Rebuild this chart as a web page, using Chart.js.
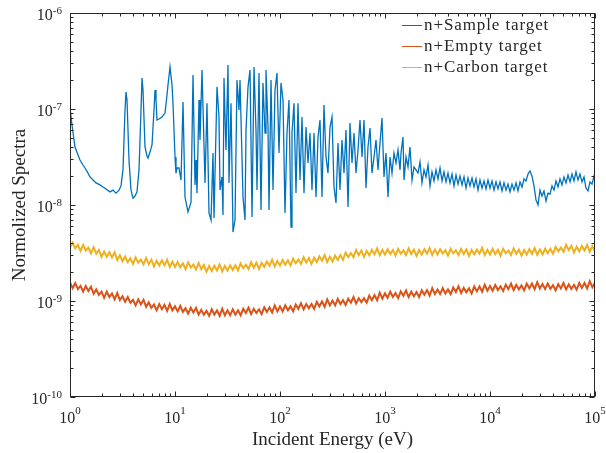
<!DOCTYPE html>
<html>
<head>
<meta charset="utf-8"/>
<title>Normalized spectra</title>
<script src="https://cdn.jsdelivr.net/npm/chart.js"></script>
<style>
  html, body { margin: 0; padding: 0; background: #fff; }
  canvas { display: block; }
</style>
</head>
<body>
<canvas id="spectra" width="606" height="453"></canvas>
<script>
// tick labels (decades)
const xDecades = [1, 10, 100, 1e3, 1e4, 1e5];
const xExponents = ['0', '1', '2', '3', '4', '5'];
const yDecades = [1e-10, 1e-9, 1e-8, 1e-7, 1e-6];
const yExponents = ['-10', '-9', '-8', '-7', '-6'];

const seriesNames = ['n+Sample target', 'n+Empty target', 'n+Carbon target'];

// n+Sample target
const sampleEnergy = [
  1.00, 1.045, 1.116, 1.192, 1.245, 1.33, 1.39, 1.484, 1.551, 1.656, 1.769, 1.931, 2.062, 2.203, 2.404, 2.568, 2.742, 2.929,
  3.06, 3.197, 3.341, 3.415, 3.491, 3.646, 3.811, 3.981, 4.16, 4.347, 4.541, 4.746, 4.851, 4.958, 5.179, 5.412, 5.533, 5.78,
  6.04, 6.31, 6.45, 6.592, 6.74, 7.041, 7.518, 8.031, 8.392, 8.577, 8.964, 9.363, 9.572, 10.0, 10.22, 10.45, 10.92, 11.41,
  11.92, 12.45, 13.30, 14.21, 14.84, 15.51, 15.85, 16.20, 16.93, 17.30, 18.08, 19.31, 20.17, 21.08, 22.03, 23.01, 23.52,
  25.12, 26.24, 26.83, 28.03, 28.65, 29.29, 30.60, 31.97, 32.68, 34.15, 35.68, 37.28, 38.95, 40.70, 41.60, 44.43, 46.42,
  47.46, 49.58, 51.80, 54.12, 56.55, 59.08, 60.40, 63.10, 65.92, 68.88, 71.97, 73.56, 76.86, 78.57, 82.09, 85.77, 89.62,
  93.63, 97.84, 102.2, 106.8, 111.6, 116.6, 121.8, 127.3, 130.1, 135.9, 142.0, 148.4, 155.1, 162.0, 169.3, 176.9, 184.8,
  193.1, 201.7, 210.8, 220.3, 230.1, 240.4, 251.2, 262.4, 274.2, 286.5, 299.4, 312.8, 326.8, 341.5, 356.8, 372.8, 389.5,
  407.0, 425.2, 444.3, 464.2, 485.0, 506.8, 529.5, 553.3, 578.0, 604.0, 631.0, 659.2, 688.8, 719.7, 751.9, 785.7, 820.9,
  857.7, 896.2, 936.3, 978.4, 1022, 1068, 1116, 1166, 1218, 1273, 1330, 1390, 1421, 1484, 1517, 1585, 1656, 1730, 1808,
  1889, 1974, 2062, 2154, 2251, 2352, 2457, 2568,
  2683, 2803, 2929, 3060, 3197, 3341, 3491, 3646, 3811, 3981, 4160, 4347, 4541, 4746, 4958, 5179, 5412, 5655, 5908, 6173,
  6450, 6740, 7041, 7356, 7686, 8031, 8392, 8770, 9162, 9572, 10000, 10450, 10920, 11410, 11920, 12450, 13010, 13590,
  14210, 14840, 15510, 16200, 16930, 17690, 18480, 19310, 20180, 21080, 22030, 23010, 24040, 25120, 26240, 27420, 28650,
  29940, 31280, 32680, 34150, 35680, 37280, 38950, 40700, 42520, 44430, 46420, 48500, 50680, 52950, 55330, 57800, 60400,
  63100, 65920, 68880, 71970, 75190, 78570, 82090, 85770, 89640, 93630, 97830, 100000
];
const sampleSpectra = [
  1.02e-7, 6.81e-8, 4.02e-8, 3.32e-8, 2.94e-8, 2.61e-8, 2.43e-8, 2.15e-8, 1.96e-8, 1.82e-8, 1.70e-8, 1.62e-8, 1.54e-8, 1.47e-8, 1.37e-8, 1.43e-8, 1.33e-8, 1.43e-8,
  1.58e-8, 2.32e-8, 9.76e-8, 1.50e-7, 1.24e-7, 2.94e-8, 1.43e-8, 1.18e-8, 1.24e-8, 1.37e-8, 2.32e-8, 9.76e-8, 2.10e-7, 1.58e-7, 4.02e-8, 3.24e-8, 3.09e-8, 3.56e-8,
  4.22e-8, 9.76e-8, 1.58e-7, 1.24e-7, 7.68e-8, 7.87e-8, 8.25e-8, 9.08e-8, 1.40e-7, 1.78e-7, 2.74e-7, 1.78e-7, 1.15e-7, 3.16e-8, 2.15e-8, 2.43e-8, 2.43e-8, 1.82e-8,
  1.18e-7, 1.21e-8, 8.46e-9, 1.07e-8, 2.26e-7, 1.62e-8, 2.94e-8, 1.33e-8, 1.24e-7, 4.75e-8, 2.55e-7, 1.70e-8, 1.15e-7, 8.25e-9, 6.98e-9, 3.48e-8, 7.32e-9,
  1.70e-7, 8.25e-8, 1.43e-8, 1.96e-8, 7.87e-9, 2.10e-7, 3.74e-8, 2.87e-7, 1.70e-8, 1.15e-7, 5.23e-9, 6.98e-9, 2.00e-7, 9.76e-8, 2.00e-7, 1.21e-8, 6.98e-9,
  6.04e-8, 1.70e-7, 2.55e-7, 7.50e-9, 2.74e-7, 6.04e-8, 1.43e-8, 2.37e-7, 8.87e-9, 1.87e-7, 5.62e-8, 2.55e-7, 6.49e-8, 8.87e-9, 2.00e-7, 1.43e-8, 1.58e-7,
  2.37e-7, 3.48e-8, 1.87e-7, 1.24e-7, 8.25e-9, 5.62e-8, 1.24e-7, 5.90e-9, 5.62e-8, 1.15e-7, 1.33e-8, 1.15e-7, 1.82e-8, 8.25e-8, 1.33e-8, 6.49e-8, 2.74e-8,
  5.62e-8, 1.43e-8, 5.62e-8, 1.21e-8, 5.11e-8, 7.68e-8, 1.21e-8, 1.10e-7, 3.16e-8, 2.15e-8, 6.49e-8, 8.25e-8, 1.54e-8, 1.05e-8, 4.42e-8, 1.43e-8, 4.75e-8,
  2.15e-8, 6.04e-8, 9.54e-9, 7.15e-8, 2.74e-8, 5.62e-8, 2.15e-8, 3.74e-8, 7.68e-8, 3.16e-8, 7.68e-8, 1.50e-8, 4.02e-8, 6.34e-8, 2.15e-8, 3.16e-8, 4.75e-8,
  2.32e-8, 4.42e-8, 8.05e-8, 1.96e-8, 3.48e-8, 1.21e-8, 3.16e-8, 2.15e-8, 3.48e-8, 2.74e-8, 3.74e-8, 2.32e-8, 3.48e-8, 5.11e-8, 1.82e-8, 3.16e-8, 2.49e-8, 4.02e-8, 1.82e-8,
  2.49e-8, 2.32e-8, 2.15e-8, 2.81e-8, 1.70e-8, 2.32e-8, 1.96e-8, 2.61e-8,
  1.58e-8, 2.21e-8, 1.78e-8, 2.32e-8, 1.87e-8, 2.43e-8, 1.78e-8, 2.21e-8, 1.74e-8, 2.15e-8, 1.70e-8, 2.10e-8, 1.58e-8, 2.05e-8, 1.65e-8, 2.00e-8, 1.62e-8, 1.96e-8, 1.50e-8, 1.91e-8,
  1.58e-8, 1.91e-8, 1.54e-8, 1.87e-8, 1.43e-8, 1.82e-8, 1.50e-8, 1.78e-8, 1.47e-8, 1.82e-8, 1.50e-8, 1.78e-8, 1.43e-8, 1.74e-8, 1.47e-8, 1.74e-8, 1.40e-8, 1.70e-8,
  1.43e-8, 1.65e-8, 1.37e-8, 1.65e-8, 1.43e-8, 1.70e-8, 1.40e-8, 1.74e-8, 1.54e-8, 1.87e-8, 1.78e-8, 2.10e-8, 2.26e-8, 2.00e-8, 1.58e-8, 1.13e-8, 1.00e-8,
  1.43e-8, 1.24e-8, 1.40e-8, 1.10e-8, 1.33e-8, 1.30e-8, 1.58e-8, 1.43e-8, 1.78e-8, 1.54e-8, 1.87e-8, 1.62e-8, 1.96e-8, 1.70e-8, 2.05e-8, 1.74e-8, 2.10e-8,
  1.78e-8, 2.21e-8, 1.82e-8, 2.10e-8, 1.74e-8, 1.96e-8, 1.50e-8, 1.40e-8, 1.74e-8, 1.65e-8, 2.00e-8, 1.91e-8
];

// empty and carbon runs share one energy grid (40 points per decade)
const bandEnergy = [
  1, 1.059, 1.122, 1.189, 1.259, 1.334, 1.413, 1.496, 1.585, 1.679, 1.778, 1.884, 1.995, 2.113, 2.239, 2.371, 2.512, 2.661, 2.818, 2.985,
  3.162, 3.350, 3.548, 3.758, 3.981, 4.217, 4.467, 4.732, 5.012, 5.309, 5.623, 5.957, 6.310, 6.683, 7.079, 7.499, 7.943, 8.414, 8.913, 9.441,
  10, 10.59, 11.22, 11.89, 12.59, 13.34, 14.13, 14.96, 15.85, 16.79, 17.78, 18.84, 19.95, 21.13, 22.39, 23.71, 25.12, 26.61, 28.18, 29.85,
  31.62, 33.50, 35.48, 37.58, 39.81, 42.17, 44.67, 47.32, 50.12, 53.09, 56.23, 59.57, 63.10, 66.83, 70.79, 74.99, 79.43, 84.14, 89.13, 94.41,
  100, 105.9, 112.2, 118.9, 125.9, 133.4, 141.3, 149.6, 158.5, 167.9, 177.8, 188.4, 199.5, 211.3, 223.9, 237.1, 251.2, 266.1, 281.8, 298.5,
  316.2, 335.0, 354.8, 375.8, 398.1, 421.7, 446.7, 473.2, 501.2, 530.9, 562.3, 595.7, 631.0, 668.3, 707.9, 749.9, 794.3, 841.4, 891.3, 944.1,
  1000, 1059, 1122, 1189, 1259, 1334, 1413, 1496, 1585, 1679, 1778, 1884, 1995, 2113, 2239, 2371, 2512, 2661, 2818, 2985,
  3162, 3350, 3548, 3758, 3981, 4217, 4467, 4732, 5012, 5309, 5623, 5957, 6310, 6683, 7079, 7499, 7943, 8414, 8913, 9441,
  10000, 10590, 11220, 11890, 12590, 13340, 14130, 14960, 15850, 16790, 17780, 18840, 19950, 21130, 22390, 23710, 25120, 26610, 28180, 29850,
  31620, 33500, 35480, 37580, 39810, 42170, 44670, 47320, 50120, 53090, 56230, 59570, 63100, 66830, 70790, 74990, 79430, 84140, 89130, 94410,
  100000
];
// n+Empty target, units of 1e-9
const emptySpectra = [
  1.56, 1.36, 1.54, 1.33, 1.44, 1.25, 1.43, 1.27, 1.41, 1.19, 1.32, 1.16, 1.25, 1.08, 1.25, 1.10, 1.20, 1.04, 1.21, 1.02,
  1.12, 0.98, 1.10, 0.96, 1.03, 0.90, 1.04, 0.92, 1.03, 0.87, 0.97, 0.85, 0.92, 0.80, 0.93, 0.82, 0.91, 0.79, 0.93, 0.80,
  0.88, 0.78, 0.89, 0.77, 0.84, 0.74, 0.85, 0.76, 0.85, 0.72, 0.81, 0.72, 0.79, 0.70, 0.82, 0.72, 0.80, 0.70, 0.83, 0.71,
  0.80, 0.71, 0.82, 0.72, 0.80, 0.71, 0.83, 0.75, 0.85, 0.73, 0.83, 0.75, 0.82, 0.73, 0.86, 0.77, 0.86, 0.76, 0.90, 0.78,
  0.88, 0.78, 0.90, 0.80, 0.88, 0.78, 0.92, 0.83, 0.95, 0.82, 0.93, 0.84, 0.93, 0.83, 0.98, 0.88, 0.99, 0.87, 1.04, 0.90,
  1.01, 0.90, 1.05, 0.93, 1.02, 0.91, 1.06, 0.96, 1.10, 0.94, 1.07, 0.97, 1.07, 0.96, 1.14, 1.02, 1.15, 1.02, 1.22, 1.06,
  1.20, 1.08, 1.25, 1.10, 1.21, 1.07, 1.26, 1.13, 1.29, 1.10, 1.25, 1.12, 1.24, 1.10, 1.29, 1.16, 1.30, 1.14, 1.36, 1.18,
  1.32, 1.18, 1.36, 1.20, 1.32, 1.18, 1.38, 1.24, 1.42, 1.21, 1.37, 1.23, 1.36, 1.20, 1.42, 1.26, 1.42, 1.25, 1.48, 1.28,
  1.43, 1.28, 1.47, 1.30, 1.42, 1.27, 1.48, 1.33, 1.52, 1.30, 1.47, 1.32, 1.45, 1.29, 1.52, 1.35, 1.52, 1.33, 1.57, 1.35,
  1.50, 1.33, 1.52, 1.34, 1.46, 1.29, 1.50, 1.35, 1.54, 1.32, 1.49, 1.34, 1.47, 1.31, 1.54, 1.37, 1.54, 1.35, 1.61, 1.39,
  1.56
];
// n+Carbon target, units of 1e-9
const carbonSpectra = [
  3.60, 4.04, 3.53, 3.85, 3.32, 3.84, 3.36, 3.58, 3.14, 3.62, 3.11, 3.41, 2.88, 3.27, 2.88, 3.22, 2.84, 3.21, 2.67, 2.99,
  2.60, 2.91, 2.54, 2.79, 2.43, 2.84, 2.51, 2.70, 2.40, 2.80, 2.42, 2.69, 2.29, 2.63, 2.34, 2.65, 2.36, 2.69, 2.26, 2.56,
  2.26, 2.55, 2.25, 2.47, 2.15, 2.52, 2.23, 2.40, 2.13, 2.48, 2.15, 2.37, 2.02, 2.31, 2.05, 2.33, 2.08, 2.39, 2.03, 2.32,
  2.07, 2.36, 2.11, 2.35, 2.08, 2.46, 2.20, 2.39, 2.15, 2.53, 2.22, 2.50, 2.16, 2.50, 2.26, 2.58, 2.33, 2.69, 2.29, 2.62,
  2.34, 2.68, 2.39, 2.66, 2.35, 2.77, 2.48, 2.70, 2.43, 2.86, 2.51, 2.81, 2.43, 2.82, 2.54, 2.91, 2.63, 3.01, 2.55, 2.90,
  2.58, 2.97, 2.68, 3.01, 2.68, 3.19, 2.87, 3.16, 2.86, 3.40, 3.00, 3.35, 2.88, 3.33, 2.99, 3.41, 3.07, 3.53, 2.99, 3.41,
  3.04, 3.46, 3.08, 3.40, 2.98, 3.50, 3.11, 3.37, 3.01, 3.53, 3.08, 3.43, 2.95, 3.40, 3.05, 3.47, 3.11, 3.56, 3.01, 3.43,
  3.05, 3.47, 3.12, 3.38, 2.98, 3.50, 3.14, 3.37, 3.01, 3.49, 3.08, 3.45, 2.95, 3.40, 3.07, 3.44, 3.11, 3.58, 3.01, 3.41,
  3.05, 3.49, 3.08, 3.42, 2.96, 3.50, 3.13, 3.35, 3.02, 3.53, 3.10, 3.43, 2.97, 3.40, 3.05, 3.47, 3.09, 3.56, 3.03, 3.45,
  3.05, 3.50, 3.14, 3.50, 3.10, 3.67, 3.29, 3.60, 3.26, 3.85, 3.38, 3.74, 3.19, 3.68, 3.29, 3.75, 3.36, 3.85, 3.26, 3.71,
  3.29
];

const colors = ['#0072BD', '#D95319', '#EDB120'];
const axisColor = '#262626';
const serif = '"Liberation Serif", "Times New Roman", serif';

function pairs(xs, ys, k) {
  return xs.map((x, i) => ({ x: x, y: ys[i] * k }));
}

// draws axes box, inward ticks, 10^n labels, titles and legend
const matlabAxes = {
  id: 'matlabAxes',
  afterDraw(chart) {
    const ctx = chart.ctx;
    const a = chart.chartArea;
    const xs = chart.scales.x, ys = chart.scales.y;
    const L = Math.round(a.left) + 0.5, R = Math.round(a.right) - 0.5;
    const T = Math.round(a.top) + 0.5, B = Math.round(a.bottom) - 0.5;
    ctx.save();
    ctx.strokeStyle = axisColor;
    ctx.fillStyle = axisColor;
    ctx.lineWidth = 1;
    ctx.strokeRect(L, T, R - L, B - T);

    ctx.beginPath();
    xDecades.forEach(d => {
      for (let m = 1; m <= 9; m++) {
        const v = d * m;
        if (v > xDecades[xDecades.length - 1]) break;
        const len = m === 1 ? 5 : 3;
        const px = Math.round(xs.getPixelForValue(v)) + 0.5;
        ctx.moveTo(px, B); ctx.lineTo(px, B - len);
        ctx.moveTo(px, T); ctx.lineTo(px, T + len);
      }
    });
    yDecades.forEach(d => {
      for (let m = 1; m <= 9; m++) {
        const v = d * m;
        if (v > yDecades[yDecades.length - 1] * 1.0001) break;
        const len = m === 1 ? 5 : 3;
        const py = Math.round(ys.getPixelForValue(v)) + 0.5;
        ctx.moveTo(L, py); ctx.lineTo(L + len, py);
        ctx.moveTo(R, py); ctx.lineTo(R - len, py);
      }
    });
    ctx.stroke();

    const baseFont = '16px ' + serif, expFont = '11px ' + serif;
    ctx.textBaseline = 'alphabetic';
    ctx.textAlign = 'left';
    // x tick labels
    xDecades.forEach((d, i) => {
      const px = xs.getPixelForValue(d);
      ctx.font = baseFont; const w1 = ctx.measureText('10').width;
      ctx.font = expFont; const w2 = ctx.measureText(xExponents[i]).width;
      const x0 = px - (w1 + w2) / 2;
      ctx.font = baseFont; ctx.fillText('10', x0, a.bottom + 26);
      ctx.font = expFont; ctx.fillText(xExponents[i], x0 + w1, a.bottom + 17);
    });
    // y tick labels
    yDecades.forEach((d, i) => {
      const py = ys.getPixelForValue(d);
      ctx.font = expFont; const w2 = ctx.measureText(yExponents[i]).width;
      ctx.font = baseFont; const w1 = ctx.measureText('10').width;
      const xr = a.left - 8;
      ctx.fillText('10', xr - w2 - w1, py + 7);
      ctx.font = expFont; ctx.fillText(yExponents[i], xr - w2, py + 1);
    });

    // axis titles
    ctx.font = '19px ' + serif;
    ctx.textAlign = 'center';
    ctx.fillText('Incident Energy (eV)', (a.left + a.right) / 2, 445);
    ctx.save();
    ctx.translate(25, (a.top + a.bottom) / 2);
    ctx.rotate(-Math.PI / 2);
    ctx.fillText('Normolized Spectra', 0, 0);
    ctx.restore();

    // legend
    ctx.textAlign = 'left';
    ctx.font = '17px ' + serif;
    if ('letterSpacing' in ctx) ctx.letterSpacing = '0.9px';
    seriesNames.forEach((name, i) => {
      const y = 25 + 21 * i;
      ctx.strokeStyle = colors[i];
      ctx.lineWidth = 1;
      ctx.beginPath();
      ctx.moveTo(402, y + 0.5); ctx.lineTo(422, y + 0.5);
      ctx.stroke();
      ctx.fillStyle = axisColor;
      ctx.fillText(name, 424, y + 5);
    });
    ctx.restore();
  }
};

new Chart(document.getElementById('spectra'), {
  type: 'line',
  data: {
    datasets: [
      { label: seriesNames[0], data: pairs(sampleEnergy, sampleSpectra, 1),
        borderColor: colors[0], borderWidth: 1.3 },
      { label: seriesNames[1], data: pairs(bandEnergy, emptySpectra, 1e-9),
        borderColor: colors[1], borderWidth: 2 },
      { label: seriesNames[2], data: pairs(bandEnergy, carbonSpectra, 1e-9),
        borderColor: colors[2], borderWidth: 2 }
    ]
  },
  options: {
    responsive: false,
    animation: false,
    devicePixelRatio: 1,
    elements: { point: { radius: 0 }, line: { tension: 0 } },
    layout: { padding: { top: 13, right: 11, left: 0, bottom: 0 } },
    plugins: { legend: { display: false }, tooltip: { enabled: false } },
    scales: {
      x: {
        type: 'logarithmic', min: 1, max: 1e5,
        grid: { display: false }, border: { display: false },
        ticks: { display: false },
        afterFit(s) { s.height = 56; }
      },
      y: {
        type: 'logarithmic', min: 1e-10, max: 1e-6,
        grid: { display: false }, border: { display: false },
        ticks: { display: false },
        afterFit(s) { s.width = 70; }
      }
    }
  },
  plugins: [matlabAxes]
});
</script>
</body>
</html>
